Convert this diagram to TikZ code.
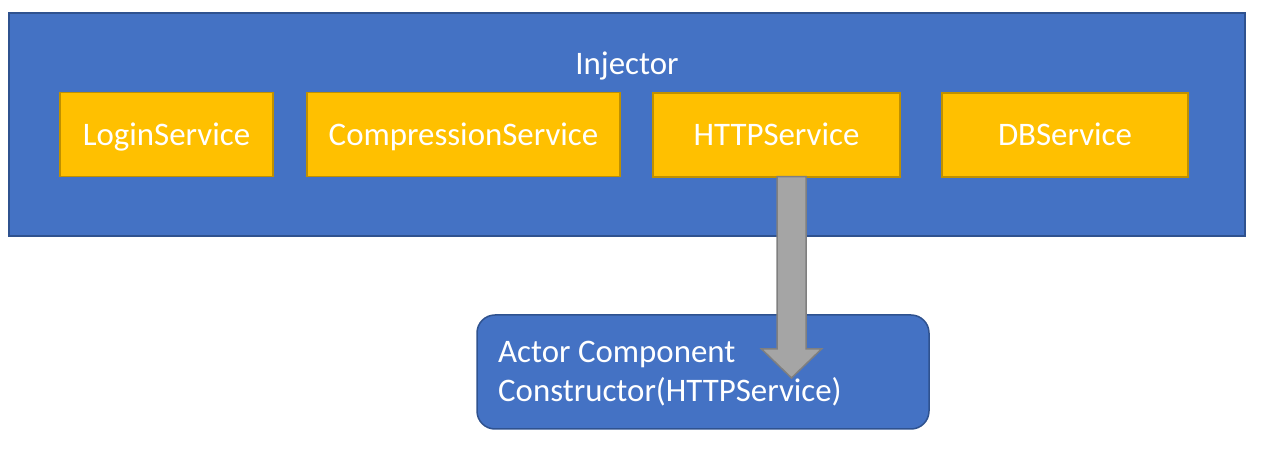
\documentclass[tikz,border=0pt]{standalone}
\usepackage{fontspec}
\setmainfont{Carlito}
\usetikzlibrary{calc,positioning}

\definecolor{injblue}{HTML}{4472C4}
\definecolor{injborder}{HTML}{2F528F}
\definecolor{svcgold}{HTML}{FFC000}
\definecolor{svcborder}{HTML}{BF9000}
\definecolor{arrgray}{HTML}{A5A5A5}
\definecolor{arrborder}{HTML}{7F7F7F}

\tikzset{
    bigfont/.style = {font=\fontsize{33}{40}\selectfont, text=white},
    service/.style = {draw=svcborder, fill=svcgold, line width=1.5bp, bigfont,
        minimum height=84bp, inner sep=0pt, text height=21.5bp, text depth=0pt},
    container/.style = {draw=injborder, fill=injblue, line width=1.5bp, inner sep=0pt},
    arrowbody/.style = {draw=arrborder, fill=arrgray, line width=1.5bp, line join=miter}
}

\begin{document}
\begin{tikzpicture}[x=1bp, y=-1bp]
    \useasboundingbox (0,0) rectangle (1271,468);

    % injector with its services
    \node[container, minimum width=1236bp, minimum height=223bp] (injector) at (627,124.5) {};
    \node[bigfont, anchor=base] (injlabel) at (627,75) {Injector};

    \node[service, minimum width=213bp] (login) at (166.5,134.5) {LoginService};
    \node[service, minimum width=313bp] (compression) at (463.5,134.5) {CompressionService};
    \node[service, minimum width=247bp] (http) at (776.5,135) {HTTPService};
    \node[service, minimum width=246bp] (db) at (1065,135) {DBService};

    % component that gets the service
    \node[container, rounded corners=18bp, minimum width=452bp, minimum height=114bp] (actor) at (703,372) {};
    \node[bigfont, anchor=base west, align=left, inner sep=0pt] (actorlabel) at (498,402)
        {Actor Component\\Constructor(HTTPService)};

    % injection arrow
    \coordinate (arrowtop) at ($(http.south)+(15,-1)$);
    \coordinate (tip) at ($(arrowtop |- actor.center)+(0,6)$);
    \draw[arrowbody] ($(arrowtop)+(-14.5,0)$) -- ($(tip)+(-14.5,-29)$) -- ($(tip)+(-30,-29)$)
        -- (tip) -- ($(tip)+(30,-29)$) -- ($(tip)+(14.5,-29)$) -- ($(arrowtop)+(14.5,0)$) -- cycle;
\end{tikzpicture}
\end{document}
